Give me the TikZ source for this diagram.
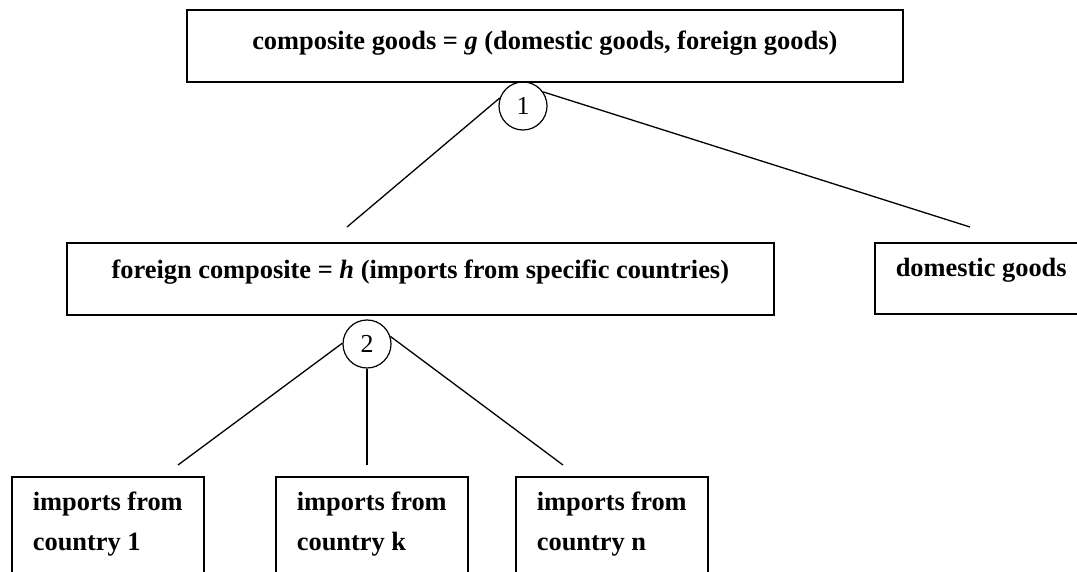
\documentclass[tikz,border=0pt]{standalone}
\usepackage{fontspec}
\setmainfont{Liberation Serif}
\begin{document}
\begin{tikzpicture}[x=1bp,y=-1bp,
  box/.style={draw, line width=1.6bp, inner sep=0pt, anchor=north west,
    font=\fontsize{26.5}{40}\selectfont\bfseries},
  leaf/.style={box, minimum width=192bp, inner xsep=20bp, align=left,
    text height=74bp, text depth=60bp},
  knot/.style={draw, circle, line width=1.2bp, minimum size=48bp, inner sep=0pt,
    font=\fontsize{26}{30}\selectfont},
  link/.style={line width=1.3bp}]
\useasboundingbox (0,0) rectangle (1077,572);
\clip (0,0) rectangle (1077,572);

\node[box, minimum width=716bp, text height=40bp, text depth=32bp] (top) at (186,9)
  {composite goods = \textit{g} (domestic goods, foreign goods)};
\node[box, minimum width=707bp, text height=36bp, text depth=36bp] (foreign) at (66,242)
  {foreign composite = \textit{h} (imports from specific countries)};
\node[box, inner xsep=21bp, text height=34bp, text depth=37bp] (domestic) at (874,242)
  {domestic goods};

\node[leaf] (c1) at (11,476) {imports from\\country 1};
\node[leaf] (ck) at (275,476) {imports from\\country k};
\node[leaf] (cn) at (515,476) {imports from\\country n};

\node[knot] (k1) at (523,106) {1};
\node[knot] (k2) at (367,344) {2};

\coordinate (e1) at (347,227);
\coordinate (e2) at (970,227);
\coordinate (e3) at (178,465);
\coordinate (e4) at (k2.south |- e3);
\coordinate (e5) at (563,465);

\draw[link] (k1.161) -- (e1);
\draw[link] (k1.35) -- (e2);
\draw[link] (k2.178) -- (e3);
\draw[link] (k2.south) -- (e4);
\draw[link] (k2.18) -- (e5);
\end{tikzpicture}
\end{document}
